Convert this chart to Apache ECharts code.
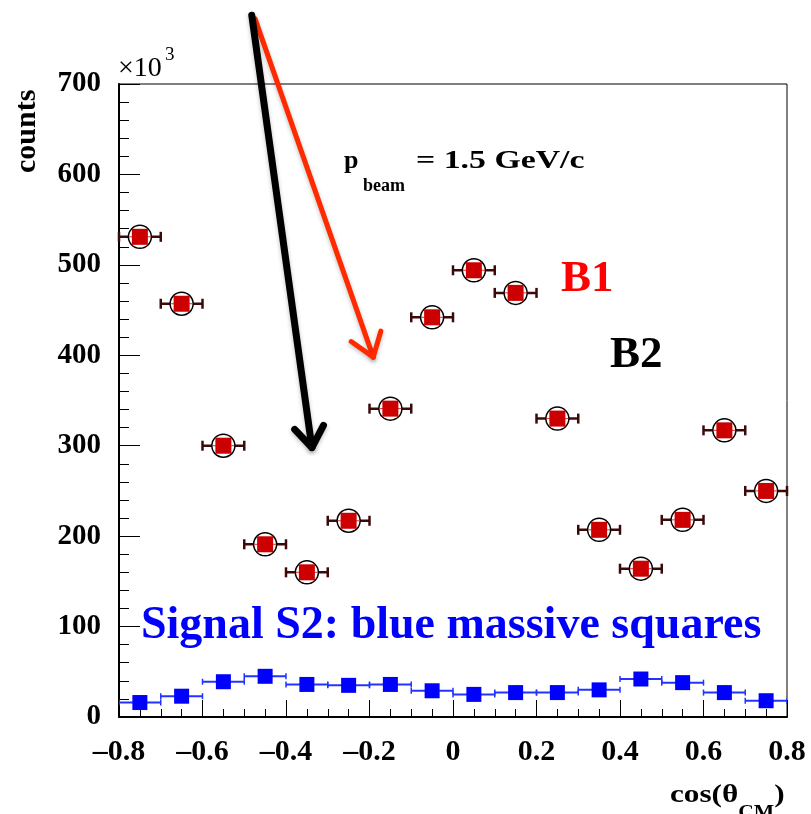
<!DOCTYPE html>
<html>
<head>
<meta charset="utf-8">
<script src="https://cdn.jsdelivr.net/npm/echarts@6/dist/echarts.min.js"></script>
<style>
  html, body { margin: 0; padding: 0; background: #fff; }
  #chart { width: 811px; height: 814px; }
</style>
</head>
<body>
<div id="chart"></div>
<script>
// Bin centres of cos(theta_CM), bin width 0.1
const binCenters = [-0.75, -0.65, -0.55, -0.45, -0.35, -0.25, -0.15, -0.05,
                     0.05,  0.15,  0.25,  0.35,  0.45,  0.55,  0.65,  0.75];
const binHalfWidth = 0.05;

// Background counts (x10^3), red squares in circles
const backgroundCounts = [531, 457, 300, 191, 160, 217, 341, 442,
                          494, 469, 330, 207, 164, 218, 317, 250];

// Signal S2 counts (x10^3), blue squares
const signalCounts = [16, 23, 39, 45, 36, 35, 36, 29,
                      25, 27, 27, 30, 42, 38, 27, 18];

// Axis ticks
const xTicks = [-0.8, -0.6, -0.4, -0.2, 0, 0.2, 0.4, 0.6, 0.8];
const yTicks = [0, 100, 200, 300, 400, 500, 600, 700];

// Arrow annotations in data coordinates: [start, end]
const blackArrow = [[-0.482, 776], [-0.338, 298]];
const redArrow = [[-0.474, 772], [-0.191, 398]];

const serif = '"Liberation Serif", "Times New Roman", serif';

const bgData = binCenters.map((c, i) => [c, backgroundCounts[i]]);
const sigData = binCenters.map((c, i) => [c, signalCounts[i]]);

function fmtX(v) {
  const r = Math.round(v * 10) / 10;
  if (r === 0) return '0';
  return (r < 0 ? '\u2013' : '') + Math.abs(r).toFixed(1);
}

function renderBackground(params, api) {
  const x = api.value(0), y = api.value(1);
  const c = api.coord([x, y]);
  const l = api.coord([x - binHalfWidth, y]);
  const r = api.coord([x + binHalfWidth, y]);
  const barColor = '#3a0a0a';
  const s = 16;
  return {
    type: 'group',
    children: [
      { type: 'line', shape: { x1: l[0], y1: l[1], x2: r[0], y2: r[1] },
        style: { stroke: barColor, lineWidth: 2.5 } },
      { type: 'line', shape: { x1: l[0], y1: l[1] - 5, x2: l[0], y2: l[1] + 5 },
        style: { stroke: barColor, lineWidth: 2.5 } },
      { type: 'line', shape: { x1: r[0], y1: r[1] - 5, x2: r[0], y2: r[1] + 5 },
        style: { stroke: barColor, lineWidth: 2.5 } },
      { type: 'circle', shape: { cx: c[0], cy: c[1], r: 11.5 },
        style: { stroke: '#000', lineWidth: 1.5, fill: '#fff' } },
      { type: 'line', shape: { x1: c[0] - 11, y1: c[1], x2: c[0] + 11, y2: c[1] },
        style: { stroke: '#e03030', lineWidth: 1 } },
      { type: 'rect', shape: { x: c[0] - s / 2, y: c[1] - s / 2, width: s, height: s },
        style: { fill: '#cc0000' } }
    ]
  };
}

function renderSignal(params, api) {
  const x = api.value(0), y = api.value(1);
  const c = api.coord([x, y]);
  const l = api.coord([x - binHalfWidth, y]);
  const r = api.coord([x + binHalfWidth, y]);
  const col = '#2233ff';
  const s = 15;
  return {
    type: 'group',
    children: [
      { type: 'line', shape: { x1: l[0], y1: l[1], x2: r[0], y2: r[1] },
        style: { stroke: col, lineWidth: 2 } },
      { type: 'line', shape: { x1: l[0], y1: l[1] - 3, x2: l[0], y2: l[1] + 3 },
        style: { stroke: col, lineWidth: 1.5 } },
      { type: 'line', shape: { x1: r[0], y1: r[1] - 3, x2: r[0], y2: r[1] + 3 },
        style: { stroke: col, lineWidth: 1.5 } },
      { type: 'rect', shape: { x: c[0] - s / 2, y: c[1] - s / 2, width: s, height: s },
        style: { fill: '#0000ff' } }
    ]
  };
}

const chart = echarts.init(document.getElementById('chart'), null, { renderer: 'canvas' });

const option = {
  backgroundColor: '#fff',
  animation: false,
  grid: {
    left: 119, right: 24, top: 84, bottom: 97,
    show: true, borderColor: '#000', borderWidth: 1,
    containLabel: false, outerBoundsMode: 'none'
  },
  xAxis: {
    type: 'value', min: -0.8, max: 0.8, interval: 0.2,
    axisLine: { show: true, onZero: false, lineStyle: { color: '#000', width: 2 } },
    axisTick: { show: true, inside: true, length: 17, lineStyle: { color: '#000', width: 1 } },
    minorTick: { show: true, splitNumber: 4, length: 8, lineStyle: { color: '#000', width: 1 } },
    splitLine: { show: false },
    axisLabel: {
      formatter: fmtX, color: '#000', fontFamily: serif, fontWeight: 'bold',
      fontSize: 30, margin: 20
    }
  },
  yAxis: {
    type: 'value', min: 0, max: 700, interval: 100,
    axisLine: { show: true, onZero: false, lineStyle: { color: '#000', width: 2 } },
    axisTick: { show: true, inside: true, length: 21, lineStyle: { color: '#000', width: 1 } },
    minorTick: { show: true, splitNumber: 5, length: 10, lineStyle: { color: '#000', width: 1 } },
    splitLine: { show: false },
    axisLabel: {
      color: '#000', fontFamily: serif, fontWeight: 'bold', fontSize: 29, margin: 18
    }
  },
  series: [
    { type: 'custom', name: 'S2', data: sigData, renderItem: renderSignal, z: 3, clip: true },
    { type: 'custom', name: 'B', data: bgData, renderItem: renderBackground, z: 4, clip: false }
  ]
};

chart.setOption(option);

// Arrow with a chevron head, from data coordinates
function arrowElements(pts, color, width, headLen) {
  const a = chart.convertToPixel({ gridIndex: 0 }, pts[0]);
  const b = chart.convertToPixel({ gridIndex: 0 }, pts[1]);
  const ang = Math.atan2(b[1] - a[1], b[0] - a[0]);
  const spread = 0.62;
  const h1 = [b[0] - headLen * Math.cos(ang - spread), b[1] - headLen * Math.sin(ang - spread)];
  const h2 = [b[0] - headLen * Math.cos(ang + spread), b[1] - headLen * Math.sin(ang + spread)];
  const style = {
    stroke: color, lineWidth: width, lineCap: 'round', lineJoin: 'round', fill: null,
    shadowBlur: 4, shadowColor: 'rgba(0,0,0,0.25)', shadowOffsetY: 2
  };
  return [
    { type: 'line', shape: { x1: a[0], y1: a[1], x2: b[0], y2: b[1] }, style: style, z: 10 },
    { type: 'polyline', shape: { points: [h1, b, h2] }, style: style, z: 10 }
  ];
}

const texts = [
  // vertical axis title
  { type: 'text', x: 12, y: 173, rotation: Math.PI / 2, z: 20,
    style: { text: 'counts', fill: '#000', font: 'bold 30px ' + serif,
             align: 'left', verticalAlign: 'top' } },
  // axis multiplier
  { type: 'text', x: 118, y: 55, z: 20,
    style: { text: '\u00d710', fill: '#000', font: '28px ' + serif } },
  { type: 'text', x: 165, y: 46, z: 20,
    style: { text: '3', fill: '#000', font: '19px ' + serif } },
  // beam momentum
  { type: 'text', x: 344, y: 148, z: 20,
    style: { text: 'p', fill: '#000', font: 'bold 26px ' + serif } },
  { type: 'text', x: 363, y: 177, z: 20,
    style: { text: 'beam', fill: '#000', font: 'bold 18px ' + serif } },
  { type: 'text', x: 416, y: 148, z: 20, scaleX: 1.3,
    style: { text: '= 1.5 GeV/c', fill: '#000', font: 'bold 26px ' + serif } },
  // component labels
  { type: 'text', x: 561, y: 257, z: 20,
    style: { text: 'B1', fill: '#ff0000', font: 'bold 45px ' + serif } },
  { type: 'text', x: 610, y: 333, z: 20,
    style: { text: 'B2', fill: '#000', font: 'bold 45px ' + serif } },
  { type: 'text', x: 141, y: 603, z: 20,
    style: { text: 'Signal S2: blue massive squares', fill: '#0000ff', font: 'bold 46px ' + serif } },
  // horizontal axis title
  { type: 'text', x: 670, y: 778, z: 20, scaleX: 1.2,
    style: {
      text: '{p|cos(\u03b8}{s|CM}{p|)}', fill: '#000',
      rich: {
        p: { fontFamily: serif, fontSize: 26, fontWeight: 'bold', verticalAlign: 'top', height: 34 },
        s: { fontFamily: serif, fontSize: 18, fontWeight: 'bold', verticalAlign: 'bottom', height: 34, padding: [18, 0, 0, 0] }
      }
    } }
];

chart.setOption({
  graphic: [].concat(arrowElements(redArrow, '#ff2a00', 5, 27),
                     arrowElements(blackArrow, '#000', 7, 25),
                     texts)
});
</script>
</body>
</html>
